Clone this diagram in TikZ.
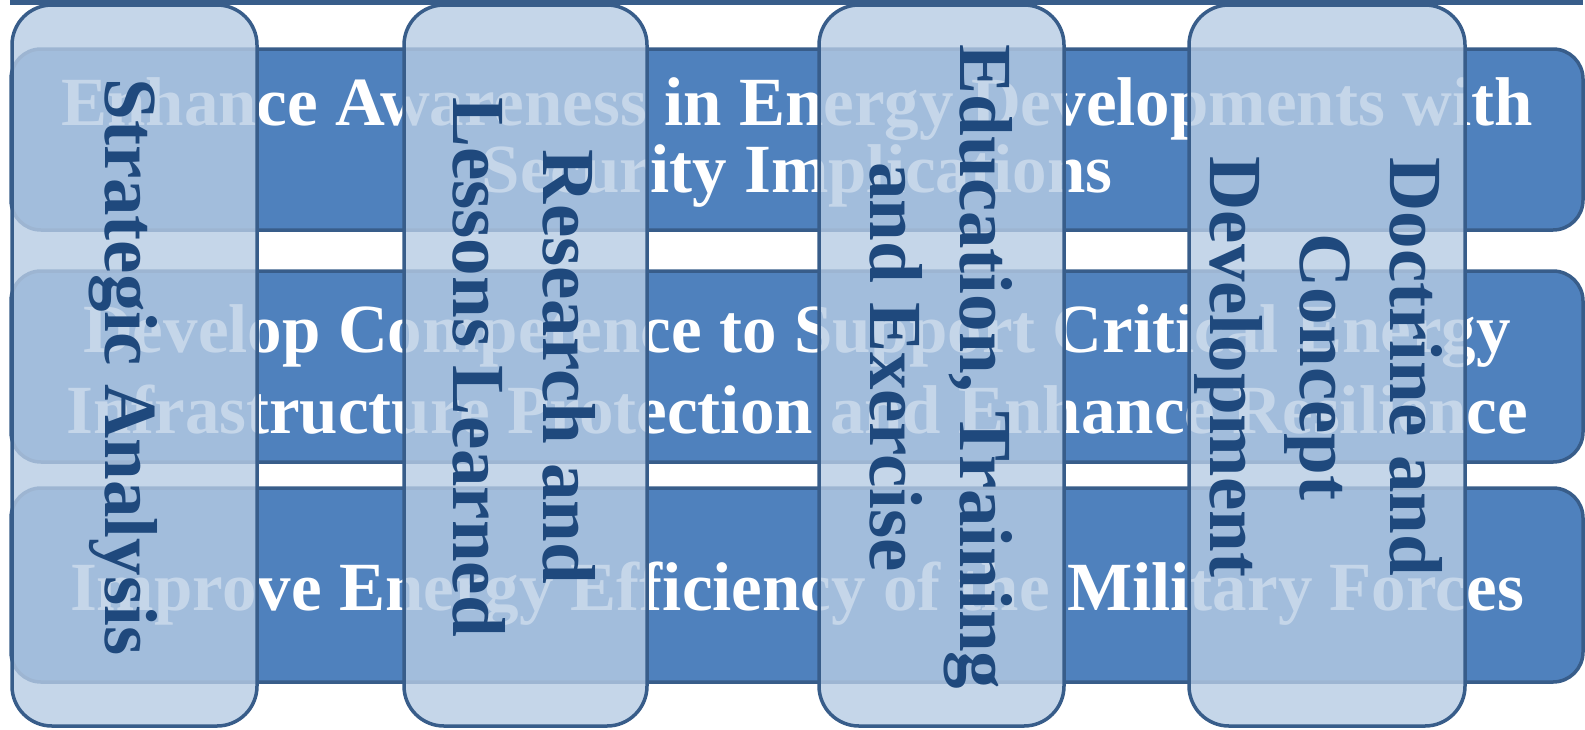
\documentclass[tikz,border=0pt]{standalone}
\usepackage{fontspec}
\setmainfont{Liberation Serif}
\definecolor{rowfill}{HTML}{4F81BD}
\definecolor{rowline}{HTML}{385D8A}
\definecolor{colfill}{HTML}{B7CCE4}
\definecolor{coltext}{HTML}{1F497D}
\tikzset{
  rowbox/.style={fill=rowfill, draw=rowline, line width=3.5pt, rounded corners=30pt},
  colbox/.style={fill=colfill, fill opacity=0.8, draw=rowline, line width=3.5pt, rounded corners=40pt},
  rowtext/.style={text=white, font=\fontsize{69}{69}\selectfont\bfseries, anchor=base, inner sep=0pt},
  coltext/.style={text=coltext, font=\fontsize{75}{75}\selectfont\bfseries, anchor=base, rotate=-90, inner sep=0pt},
}
\begin{document}
\begin{tikzpicture}[x=1pt, y=-1pt]
\useasboundingbox (0,0) rectangle (1585,729);
% rule along the top edge
\coordinate (ruleL) at (10,2.5);
\coordinate (ruleR) at (1583,2.5);
\draw[draw=rowline, line width=5pt] (ruleL) -- (ruleR);

% the three goal bars
\draw[rowbox] (11,49) rectangle (1583,230);
\draw[rowbox] (11,271) rectangle (1583,462);
\draw[rowbox] (11,488) rectangle (1583,682);

\node[rowtext] (t1a) at (797,125) {Enhance Awareness in Energy Developments with};
\node[rowtext] (t1b) at (797,192) {Security Implications};
\node[rowtext] (t2a) at (797,352) {Develop Competence to Support Critical Energy};
\node[rowtext] (t2b) at (797,433) {Infrastructure Protection and Enhance Resilience};
\node[rowtext] (t3a) at (797,610) {Improve Energy Efficiency of the Military Forces};

% the four activity columns
\draw[colbox] (12,5) rectangle (257,726);
\draw[colbox] (404,5) rectangle (647,726);
\draw[colbox] (819,5) rectangle (1064,726);
\draw[colbox] (1189,5) rectangle (1465,726);

\node[coltext] (c1a) at (105,367) {Strategic Analysis};
\node[coltext] (c2a) at (543,367) {Research and};
\node[coltext] (c2b) at (453,367) {Lessons Learned};
\node[coltext] (c3a) at (960,367) {Education, Training};
\node[coltext] (c3b) at (870,367) {and Exercise};
\node[coltext] (c4a) at (1390,367) {Doctrine and};
\node[coltext] (c4b) at (1300,367) {Concept};
\node[coltext] (c4c) at (1210,367) {Development};
\end{tikzpicture}
\end{document}
